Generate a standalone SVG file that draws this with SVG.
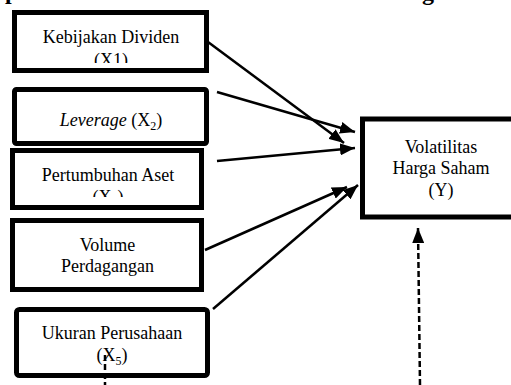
<svg xmlns="http://www.w3.org/2000/svg" width="511" height="385" viewBox="0 0 511 385">
<style>
text{font-family:"Liberation Serif","Times New Roman",serif;font-size:18px;fill:#000;text-anchor:middle}
.box{fill:#fff;stroke:#000;stroke-width:5}
.ln{stroke:#000;stroke-width:2.5;fill:none}
.dash{stroke:#000;stroke-width:2.5;fill:none;stroke-dasharray:6 3}
.title{font-weight:bold;font-size:24px;text-anchor:start}
.sub{font-size:12px}
</style>
<defs>
<marker id="ah" markerUnits="userSpaceOnUse" markerWidth="15" markerHeight="12" refX="15" refY="6" orient="auto">
<path d="M0,0 L15,6 L0,12 z" fill="#000"/>
</marker>
<clipPath id="c1"><rect x="17" y="15" width="187" height="48"/></clipPath>
<clipPath id="c3"><rect x="15" y="153" width="184" height="44"/></clipPath>
</defs>
<text class="title" x="5" y="-1">p</text>
<text class="title" x="422" y="0">g</text>
<g id="x1">
<rect class="box" x="14.5" y="12.5" width="192" height="58"/>
<text x="111" y="43">Kebijakan Dividen</text>
<text x="111" y="66" clip-path="url(#c1)">(X1)</text>
</g>
<g id="x2">
<rect class="box" x="14.5" y="89.5" width="192" height="54" rx="2"/>
<text x="111" y="126"><tspan font-style="italic">Leverage</tspan> (X<tspan class="sub" dy="4">2</tspan><tspan dy="-4">)</tspan></text>
</g>
<g id="x3">
<rect class="box" x="12.5" y="150.5" width="189" height="57"/>
<text x="108" y="181">Pertumbuhan Aset</text>
<text x="108" y="203" clip-path="url(#c3)">(X<tspan class="sub" dy="4">3</tspan><tspan dy="-4">)</tspan></text>
</g>
<g id="x4">
<rect class="box" x="12.5" y="220.5" width="189" height="69"/>
<text x="107.5" y="251">Volume</text>
<text x="107.5" y="272">Perdagangan</text>
</g>
<g id="x5">
<rect class="box" x="16.5" y="309.5" width="191" height="66" rx="3"/>
<text x="112" y="339">Ukuran Perusahaan</text>
<text x="112" y="361">(X<tspan class="sub" dy="4">5</tspan><tspan dy="-4">)</tspan></text>
</g>
<g id="y">
<rect class="box" x="362.5" y="119" width="170" height="98"/>
<text x="441" y="153">Volatilitas</text>
<text x="441" y="174">Harga Saham</text>
<text x="441" y="196">(Y)</text>
</g>
<g id="connectors">
<line class="ln" x1="208" y1="42" x2="344" y2="143" marker-end="url(#ah)"/>
<line class="ln" x1="217" y1="92" x2="355" y2="132" marker-end="url(#ah)"/>
<line class="ln" x1="217" y1="161" x2="355" y2="148" marker-end="url(#ah)"/>
<line class="ln" x1="205" y1="250" x2="347" y2="187" marker-end="url(#ah)"/>
<line class="ln" x1="213" y1="309" x2="358" y2="185" marker-end="url(#ah)"/>
<line class="dash" x1="105" y1="355" x2="105" y2="385"/>
<line class="dash" x1="420" y1="385" x2="418" y2="228" marker-end="url(#ah)"/>
</g>
</svg>
